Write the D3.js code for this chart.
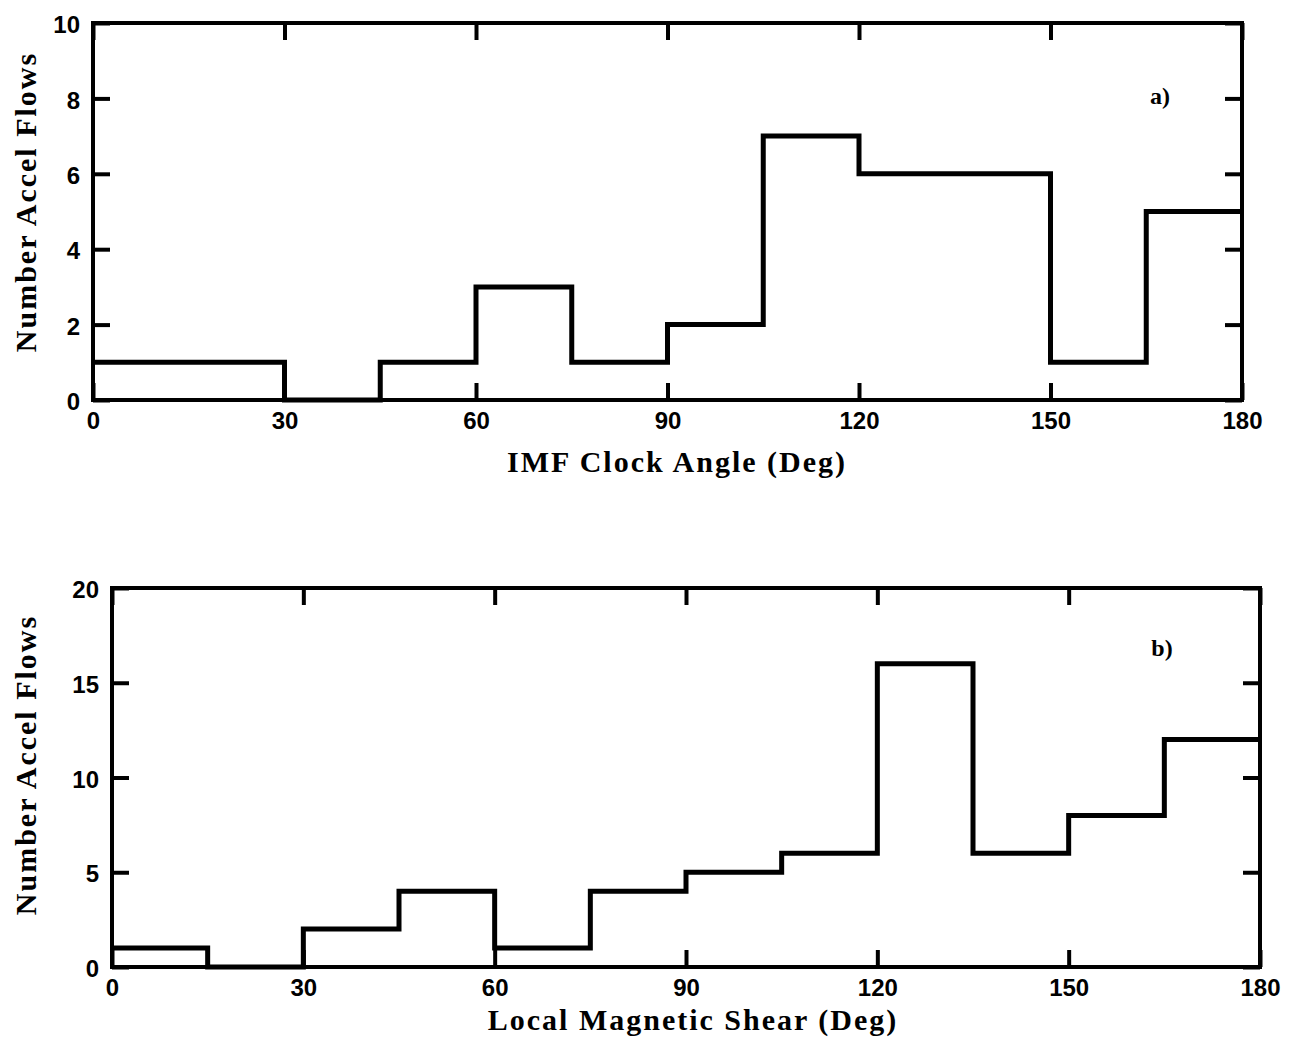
<!DOCTYPE html>
<html><head><meta charset="utf-8">
<script src="https://cdn.jsdelivr.net/npm/d3@7"></script>
<style>
body{margin:0;background:#fff;}
.tick text{font-family:"Liberation Sans",Arial,sans-serif;font-weight:bold;font-size:24px;fill:#000;}
.title{font-family:"Liberation Serif","Times New Roman",serif;font-weight:bold;font-size:30px;letter-spacing:2px;fill:#000;}
</style></head><body>
<svg id="c" width="1294" height="1041"></svg>
<script>
const binEdges = [0,15,30,45,60,75,90,105,120,135,150,165,180];
const clockCounts = [1,1,0,1,3,1,2,7,6,6,1,5];
const shearCounts = [1,0,2,4,1,4,5,6,16,6,8,12];
const xTicks = [0,30,60,90,120,150,180];
const yTicksA = [0,2,4,6,8,10];
const yTicksB = [0,5,10,15,20];

const svg = d3.select("#c");

function panel(o){
  const x = d3.scaleLinear().domain([0,180]).range([o.x0,o.x1]);
  const y = d3.scaleLinear().domain([0,o.ymax]).range([o.y0,o.y1]);
  const g = svg.append("g");
  const tl = 17;
  const ax = g.append("g").attr("transform",`translate(0,${o.y0})`)
    .call(d3.axisBottom(x).tickValues(xTicks).tickSize(-tl).tickPadding(12).tickFormat(d3.format("d")));
  const axt = g.append("g").attr("transform",`translate(0,${o.y1})`)
    .call(d3.axisTop(x).tickValues(xTicks).tickSize(-tl).tickFormat(""));
  const ay = g.append("g").attr("transform",`translate(${o.x0},0)`)
    .call(d3.axisLeft(y).tickValues(o.yt).tickSize(-tl).tickPadding(13).tickFormat(d3.format("d")));
  const ayr = g.append("g").attr("transform",`translate(${o.x1},0)`)
    .call(d3.axisRight(y).tickValues(o.yt).tickSize(-tl).tickFormat(""));
  [ax,axt,ay,ayr].forEach(a=>{a.select(".domain").remove();a.selectAll("line").attr("stroke","#000").attr("stroke-width",4);});
  ax.selectAll(".tick text").attr("dy","0.71em");
  ay.selectAll(".tick text").attr("dy","0.4em");
  g.append("rect").attr("x",o.x0).attr("y",o.y1).attr("width",o.x1-o.x0).attr("height",o.y0-o.y1)
    .attr("fill","none").attr("stroke","#000").attr("stroke-width",4);
  const pts = [];
  o.counts.forEach((c,i)=>{pts.push([binEdges[i],c]);pts.push([binEdges[i+1],c]);});
  g.append("path").attr("d",d3.line().x(d=>x(d[0])).y(d=>y(d[1]))(pts))
    .attr("fill","none").attr("stroke","#000").attr("stroke-width",5).attr("stroke-linejoin","miter");
  g.append("text").attr("class","title").attr("x",o.tx).attr("y",o.ty).attr("text-anchor","middle").text(o.xt);
  g.append("text").attr("class","title").attr("transform",`translate(36,${o.yc}) rotate(-90)`).attr("text-anchor","middle").text("Number Accel Flows");
  g.append("text").attr("class","title").style("font-size","24px").style("letter-spacing","0px").attr("x",o.lx).attr("y",o.ly).attr("text-anchor","middle").text(o.label);
}

panel({x0:93,x1:1242,y0:400,y1:23,ymax:10,yt:yTicksA,counts:clockCounts,xt:"IMF Clock Angle (Deg)",tx:677,ty:472,yc:202,label:"a)",lx:1160,ly:104});
panel({x0:112,x1:1260,y0:967,y1:588,ymax:20,yt:yTicksB,counts:shearCounts,xt:"Local Magnetic Shear (Deg)",tx:693,ty:1030,yc:765,label:"b)",lx:1162,ly:656});
</script></body></html>
